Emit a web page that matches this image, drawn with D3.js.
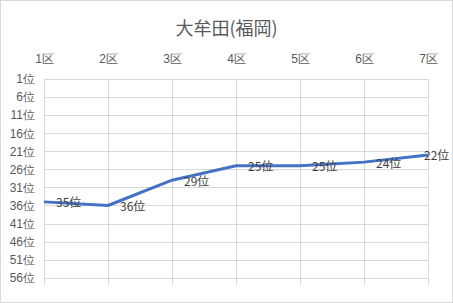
<!DOCTYPE html>
<html><head><meta charset="utf-8">
<script src="https://cdn.jsdelivr.net/npm/d3@7"></script>
<style>body{margin:0;background:#fff;}svg{display:block;font-family:"Noto Sans CJK JP","Noto Sans",sans-serif;}</style>
</head><body><svg id="c" width="453" height="303"></svg>
<script>
const title = "大牟田(福岡)";
const categories = ["1区","2区","3区","4区","5区","6区","7区"];
const ranks = [35, 36, 29, 25, 25, 24, 22];
const yTicks = [1,6,11,16,21,26,31,36,41,46,51,56];
const yMin = 1, yMax = 58;

const W = 453, H = 303;
const svg = d3.select("#c");
const pLeft = 44, pRight = 428, pTop = 79, pBottom = 285;

svg.append("rect").attr("x",0.5).attr("y",0.5).attr("width",W-1).attr("height",H-1)
  .attr("fill","#fff").attr("stroke","#d9d9d9");

const x = d3.scalePoint().domain(categories).range([pLeft,pRight]);
const y = d3.scaleLinear().domain([yMin,yMax]).range([pTop,pBottom]);

// gridlines
svg.append("g").selectAll("line").data(yTicks).join("line")
  .attr("x1",pLeft).attr("x2",pRight).attr("y1",d=>Math.round(y(d))+0.5).attr("y2",d=>Math.round(y(d))+0.5)
  .attr("stroke","#d9d9d9").attr("stroke-width",1);
svg.append("g").selectAll("line").data(categories).join("line")
  .attr("x1",d=>Math.round(x(d))+0.5).attr("x2",d=>Math.round(x(d))+0.5).attr("y1",pTop).attr("y2",pBottom)
  .attr("stroke","#d9d9d9").attr("stroke-width",1);

// axes labels
const xAxis = d3.axisTop(x).tickSize(0).tickPadding(0);
const gx = svg.append("g").attr("transform",`translate(0,${pTop-16})`).call(xAxis);
gx.select(".domain").remove();
gx.selectAll("text").attr("fill","#595959").attr("font-size",12).attr("font-family",null);

const yAxis = d3.axisLeft(y).tickValues(yTicks).tickFormat(d=>d+"位").tickSize(0).tickPadding(0);
const gy = svg.append("g").attr("transform",`translate(${pLeft-9},0)`).call(yAxis);
gy.select(".domain").remove();
gy.selectAll("text").attr("fill","#595959").attr("font-size",12).attr("font-family",null);

// title
svg.append("text").attr("x",W/2).attr("y",27).attr("text-anchor","middle").attr("dominant-baseline","central")
  .attr("fill","#595959").attr("font-size",18).text(title);

// line
const line = d3.line().x((d,i)=>x(categories[i])).y(d=>y(d));
svg.append("path").datum(ranks).attr("d",line).attr("fill","none")
  .attr("stroke","#4472c4").attr("stroke-width",3).attr("stroke-linejoin","round");

// labels
svg.append("g").selectAll("text").data(ranks).join("text")
  .attr("x",(d,i)=>Math.min(x(categories[i])+12, W-29))
  .attr("y",d=>y(d)).attr("dominant-baseline","central")
  .attr("fill","#404040").attr("font-size",12).text(d=>d+"位");
</script></body></html>
